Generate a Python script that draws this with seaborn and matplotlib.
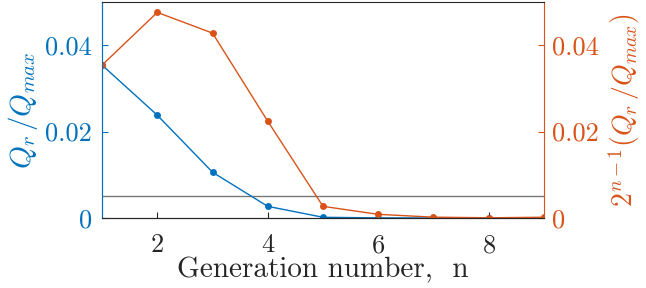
import numpy as np
import pandas as pd
import matplotlib
matplotlib.use("Agg")
import matplotlib.pyplot as plt
import seaborn as sns

sns.set_style("ticks")
plt.rcParams["font.family"] = ["cmr10", "DejaVu Serif"]
plt.rcParams["mathtext.fontset"] = "cm"
plt.rcParams["axes.unicode_minus"] = False
plt.rcParams["axes.formatter.use_mathtext"] = True

# data
generation = [1, 2, 3, 4, 5, 6, 7, 8, 9]
q_ratio = [0.0354, 0.0238, 0.0106, 0.0027, 0.00017, 0.00003, 0.00001, 0.0, 0.0]
q_scaled = [0.0354, 0.0476, 0.0428, 0.0224, 0.0027, 0.00085, 0.0002, 0.00005, 0.00018]
threshold = 0.005

blue = "#0072BD"
orange = "#D95319"

df = pd.DataFrame({"n": generation, "q": q_ratio, "q2": q_scaled})

fig = plt.figure(figsize=(6.46, 2.88), dpi=100)
ax = fig.add_axes([0.158, 0.243, 0.684, 0.75])
ax2 = ax.twinx()

sns.lineplot(data=df, x="n", y="q", ax=ax, color=blue, marker="o",
             markersize=5, markeredgewidth=0, linewidth=1)
sns.lineplot(data=df, x="n", y="q2", ax=ax2, color=orange, marker="o",
             markersize=5, markeredgewidth=0, linewidth=1)
ax.axhline(threshold, color="#777777", linewidth=1, zorder=0)

for a in (ax, ax2):
    a.set_xlim(1, 9)
    a.set_ylim(0, 0.05)
    a.set_yticks([0, 0.02, 0.04])
    a.set_yticklabels(["0", "0.02", "0.04"])
    a.tick_params(direction="in", labelsize=19, length=4)

ax.set_xticks([2, 4, 6, 8])
ax.tick_params(axis="y", colors=blue, pad=7)
ax.tick_params(axis="x", colors="#262626", pad=11)
ax2.tick_params(axis="y", colors=orange, pad=6)
ax2.tick_params(top=True)

ax.set_xlabel("Generation number,  n", fontsize=21, color="#262626", labelpad=0)
ax.set_ylabel(r"$Q_r\,/Q_{max}$", fontsize=21, color=blue, labelpad=4)
ax2.set_ylabel(r"$2^{n-1}(Q_r\,/Q_{max})$", fontsize=20, color=orange, labelpad=5)

ax2.spines["left"].set_color(blue)
ax2.spines["right"].set_color(orange)
ax2.spines["top"].set_color("#262626")
ax2.spines["bottom"].set_color("#262626")
for s in ax2.spines.values():
    s.set_linewidth(0.8)
ax.spines["left"].set_color(blue)
ax.spines["right"].set_visible(False)
ax.spines["top"].set_visible(False)

fig.savefig("out.png", dpi=100)
